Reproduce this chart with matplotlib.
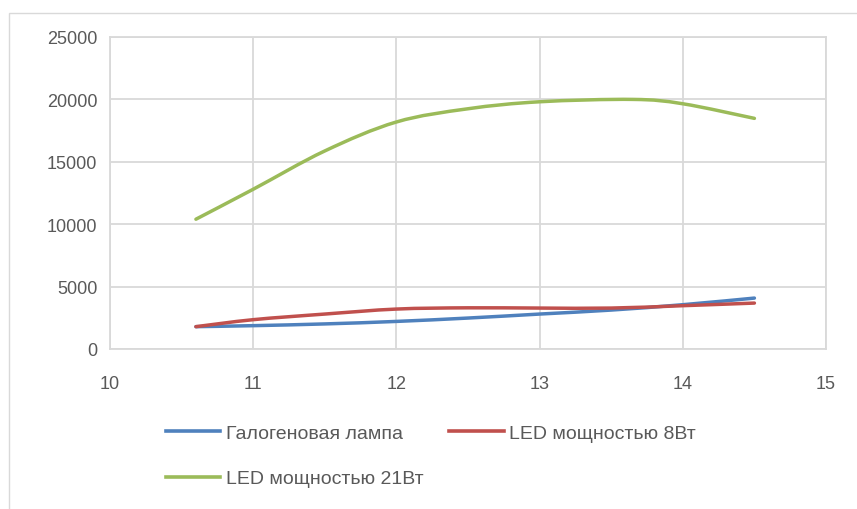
import numpy as np
import matplotlib.pyplot as plt
from matplotlib.path import Path
from matplotlib.patches import PathPatch, Rectangle
from matplotlib.lines import Line2D

# значения
x_vals = [10.6, 11.0, 11.5, 12.0, 12.5, 13.0, 13.5, 14.0, 14.5]
halogen = [1790, 1870, 2010, 2210, 2480, 2800, 3120, 3550, 4080]
led_8w = [1790, 2350, 2800, 3200, 3300, 3280, 3280, 3470, 3680]
x_21w = [10.6, 11.0, 11.5, 12.0, 12.5, 13.0, 13.65, 14.0, 14.5]
led_21w = [10400, 12800, 15870, 18190, 19250, 19810, 20000, 19650, 18480]

labels = ['Галогеновая лампа', 'LED мощностью 8Вт', 'LED мощностью 21Вт']
colors = ['#4F81BD', '#C0504D', '#9BBB59']
x_ticks = [10, 11, 12, 13, 14, 15]
y_ticks = [0, 5000, 10000, 15000, 20000, 25000]

plt.rcParams['font.family'] = ['Liberation Sans', 'DejaVu Sans']


def smooth_path(xs, ys):
    # сглаженная линия как в Excel: Безье по Catmull-Rom
    pts = np.column_stack([xs, ys]).astype(float)
    n = len(pts)
    verts = [pts[0]]
    codes = [Path.MOVETO]
    for i in range(n - 1):
        p0 = pts[i - 1] if i > 0 else pts[i]
        p1 = pts[i]
        p2 = pts[i + 1]
        p3 = pts[i + 2] if i + 2 < n else pts[i + 1]
        c1 = p1 + (p2 - p0) / 6
        c2 = p2 - (p3 - p1) / 6
        verts += [c1, c2, p2]
        codes += [Path.CURVE4] * 3
    return Path(verts, codes)


fig = plt.figure(figsize=(8.57, 5.10), dpi=100)
ax = fig.add_axes([110 / 857, 1 - 350 / 510, 716 / 857, 312 / 510])

# рамка диаграммы
fig.patches.append(Rectangle((9 / 857, -0.05), 1.0, 1 - 14 / 510 + 0.05,
                             transform=fig.transFigure, fill=False,
                             edgecolor='#D9D9D9', linewidth=1.0))

series = [(x_vals, halogen), (x_vals, led_8w), (x_21w, led_21w)]
for (xs, ys), c in zip(series, colors):
    ax.add_patch(PathPatch(smooth_path(xs, ys), facecolor='none',
                           edgecolor=c, linewidth=2.5, capstyle='round', zorder=3))

ax.set_xlim(10, 15)
ax.set_ylim(0, 25000)
ax.set_xticks(x_ticks)
ax.set_yticks(y_ticks)
ax.grid(True, color='#D9D9D9', linewidth=1.3)
ax.set_axisbelow(True)
for s in ax.spines.values():
    s.set_color('#D9D9D9')
    s.set_linewidth(1.3)
ax.tick_params(length=0, labelsize=13, labelcolor='#595959')
ax.tick_params(axis='x', pad=19)
ax.tick_params(axis='y', pad=9)

# легенда заполняется по строкам: порядок для ncol=2
handles = [Line2D([], [], color=c, linewidth=2.6) for c in colors]
order = [0, 2, 1]
fig.legend([handles[i] for i in order], [labels[i] for i in order],
           ncol=2, loc='upper left',
           bbox_to_anchor=(166 / 857, 1 - 425 / 510), frameon=False,
           fontsize=14, labelcolor='#595959', handlelength=2.8,
           handletextpad=0.3, columnspacing=1.3, labelspacing=1.45,
           borderpad=0, borderaxespad=0)

fig.savefig('out.png', dpi=100)
